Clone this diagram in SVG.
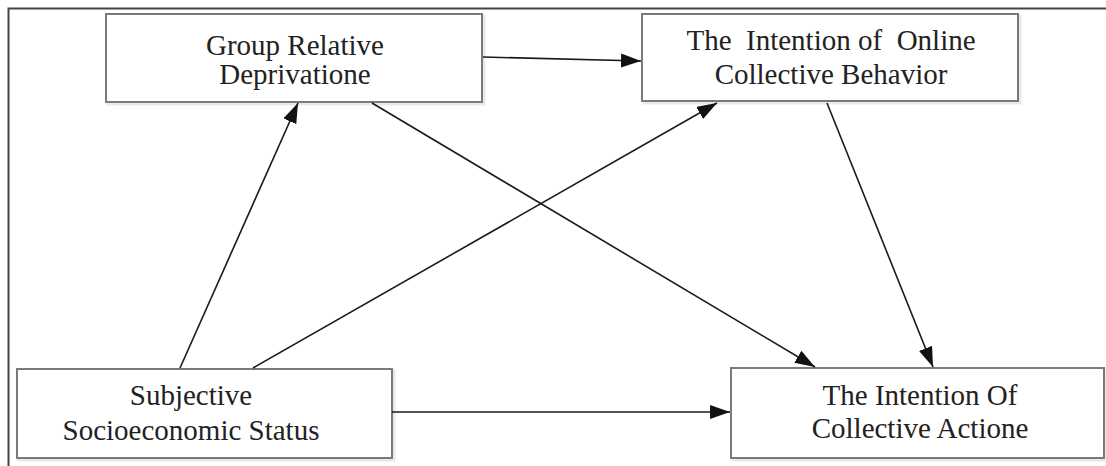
<svg xmlns="http://www.w3.org/2000/svg" width="1106" height="466" viewBox="0 0 1106 466">
<style>
.frame{fill:none;stroke:#444;stroke-width:2}
.box{fill:#fff;stroke:#7a7a7a;stroke-width:2}
.shadow{fill:none;stroke:#e6eaef;stroke-width:3}
.lbl{font-family:"Liberation Serif","Times New Roman",serif;font-size:29px;fill:#222;text-anchor:middle;white-space:pre}
.edge{stroke:#1a1a1a;stroke-width:1.6;fill:none;marker-end:url(#ah)}
</style>
<defs>
<marker id="ah" markerUnits="userSpaceOnUse" markerWidth="21" markerHeight="14" refX="20" refY="7" orient="auto">
<path d="M0,0 L20,7 L0,14 Z" fill="#111"/>
</marker>
</defs>
<rect width="1106" height="466" fill="#fff"/>
<path class="frame" d="M8.5,466 V8.5 H1106"/>
<g id="n-grd">
<rect class="shadow" x="108" y="16" width="376" height="88"/>
<rect class="box" x="106" y="14" width="376" height="88"/>
<text class="lbl"><tspan x="295" y="55">Group Relative</tspan><tspan x="295" y="84">Deprivatione</tspan></text>
</g>
<g id="n-iocb">
<rect class="shadow" x="644" y="16" width="376" height="87"/>
<rect class="box" x="642" y="14" width="376" height="87"/>
<text class="lbl"><tspan x="831" y="50">The  Intention of  Online</tspan><tspan x="831" y="84">Collective Behavior</tspan></text>
</g>
<g id="n-sss">
<rect class="shadow" x="19" y="371" width="375" height="89"/>
<rect class="box" x="17" y="369" width="375" height="89"/>
<text class="lbl"><tspan x="191" y="405">Subjective</tspan><tspan x="191" y="440">Socioeconomic Status</tspan></text>
</g>
<g id="n-ica">
<rect class="shadow" x="733" y="370" width="373" height="90"/>
<rect class="box" x="731" y="368" width="373" height="90"/>
<text class="lbl"><tspan x="920" y="405">The Intention Of</tspan><tspan x="920" y="438">Collective Actione</tspan></text>
</g>
<g id="edges">
<line class="edge" x1="483" y1="57" x2="641" y2="61"/>
<line class="edge" x1="180" y1="368" x2="298" y2="103"/>
<line class="edge" x1="253" y1="368" x2="717" y2="103"/>
<line class="edge" x1="372" y1="103" x2="815" y2="367"/>
<line class="edge" x1="827" y1="103" x2="933" y2="367"/>
<line class="edge" x1="392" y1="412" x2="730" y2="412"/>
</g>
</svg>
